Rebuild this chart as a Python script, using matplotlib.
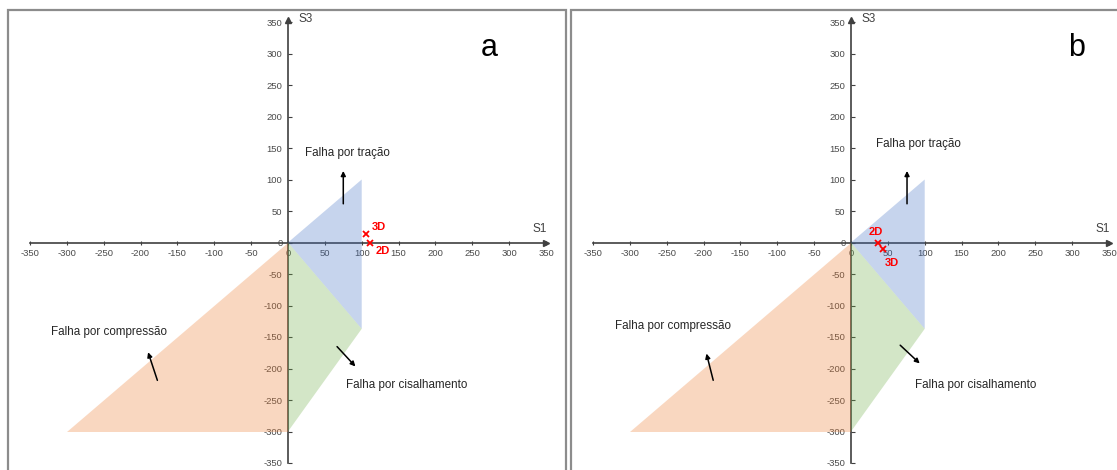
import matplotlib
matplotlib.use("Agg")
import matplotlib.pyplot as plt
from matplotlib.patches import Rectangle

plt.rcParams["font.family"] = ["Liberation Sans", "DejaVu Sans"]
plt.rcParams["axes.unicode_minus"] = False

# axis ticks (both axes)
ticks = list(range(-350, 351, 50))

# failure regions (S1, S3)
tension_s1 = [0, 100, 100]
tension_s3 = [0, 100, -137]
shear_s1 = [0, 100, 0]
shear_s3 = [0, -137, -300]
compression_s1 = [0, 0, -300]
compression_s3 = [0, -300, -300]

# stress points per panel
labels_pts = ["2D", "3D"]
a_s1 = [111, 106]
a_s3 = [0, 13]
b_s1 = [36, 43]
b_s3 = [0, -11]

W, H = 1117, 470
fig = plt.figure(figsize=(W / 100, H / 100), dpi=100)

axis_col = "#404040"
txt_col = "#262626"


def panel(left_px, pts_s1, pts_s3, pt_lbl_off, letter, letter_px, txt_pos):
    ax = fig.add_axes([left_px / W, 7 / H, 516 / W, 441 / H])
    ax.set_xlim(-350, 350)
    ax.set_ylim(-350, 350)
    for s in ["top", "right"]:
        ax.spines[s].set_visible(False)
    for s in ["left", "bottom"]:
        ax.spines[s].set_position(("data", 0))
        ax.spines[s].set_color(axis_col)
        ax.spines[s].set_linewidth(1.2)
    ax.set_xticks(ticks)
    ax.set_yticks(ticks)
    ax.set_xticklabels([str(t) for t in ticks])
    ax.set_yticklabels([str(t) for t in ticks])
    ax.tick_params(axis="x", direction="inout", length=3, pad=3.5, labelsize=6.8,
                   labelcolor="#4a4a4a", color=axis_col)
    ax.tick_params(axis="y", direction="in", length=3, pad=4, labelsize=6.8,
                   labelcolor="#4a4a4a", color=axis_col)
    ax.patch.set_alpha(0)
    # arrow heads
    ax.plot(1, 0, ">", color=axis_col, ms=4, transform=ax.get_yaxis_transform(), clip_on=False)
    ax.plot(0, 1.005, "^", color=axis_col, ms=4, transform=ax.get_xaxis_transform(), clip_on=False)
    ax.text(342, 21, "S1", fontsize=8.5, color=axis_col, ha="center", va="center")
    ax.text(24, 354, "S3", fontsize=8.5, color=axis_col, ha="center", va="center", clip_on=False)

    ax.fill(compression_s1, compression_s3, color="#ed7d31", alpha=0.3, lw=0, zorder=3)
    ax.fill(shear_s1, shear_s3, color="#70ad47", alpha=0.3, lw=0, zorder=3)
    ax.fill(tension_s1, tension_s3, color="#4472c4", alpha=0.3, lw=0, zorder=3)

    (tx, ty, tax), (cx, cy, cax), (sx, sy, sax) = txt_pos
    ax.text(tx, ty, "Falha por tração", fontsize=8.4, color=txt_col, ha="center", va="center")
    ax.text(cx, cy, "Falha por compressão", fontsize=8.4, color=txt_col, ha="center", va="center")
    ax.text(sx, sy, "Falha por cisalhamento", fontsize=8.4, color=txt_col, ha="left", va="center")
    arrow = dict(arrowstyle="-|>", color="black", lw=1.1, mutation_scale=7)
    for (x0, y0, x1, y1) in (tax, cax, sax):
        ax.annotate("", xy=(x1, y1), xytext=(x0, y0), arrowprops=arrow, zorder=5)

    ax.plot(pts_s1, pts_s3, "x", color="red", ms=4, mew=1.3, ls="none", zorder=6)
    for lbl, x, y, (dx, dy) in zip(labels_pts, pts_s1, pts_s3, pt_lbl_off):
        ax.text(x + dx, y + dy, lbl, fontsize=8, fontweight="bold", color="red",
                ha="center", va="center", zorder=6)

    fig.text(letter_px[0] / W, 1 - letter_px[1] / H, letter, fontsize=22,
             ha="center", va="center", color="black")
    return ax


panel(30, a_s1, a_s3, [(17, -14), (17, 12)], "a", (489, 48),
      [(81, 142, (75, 57, 75, 118)),
       (-243, -142, (-176, -223, -191, -170)),
       (79, -226, (64, -162, 94, -200))])
panel(593, b_s1, b_s3, [(-2, 17), (12, -22)], "b", (1077, 48),
      [(92, 156, (76, 57, 76, 118)),
       (-241, -132, (-186, -223, -197, -172)),
       (87, -226, (64, -160, 96, -195))])

# panel frames
for x0, x1 in ((8, 566), (571, 1130)):
    fig.add_artist(Rectangle((x0 / W, -0.05), (x1 - x0) / W, 1 - 10 / H + 0.05,
                             transform=fig.transFigure, fill=False,
                             ec="#8c8c8c", lw=1.6))

fig.savefig("out.png", dpi=100)
